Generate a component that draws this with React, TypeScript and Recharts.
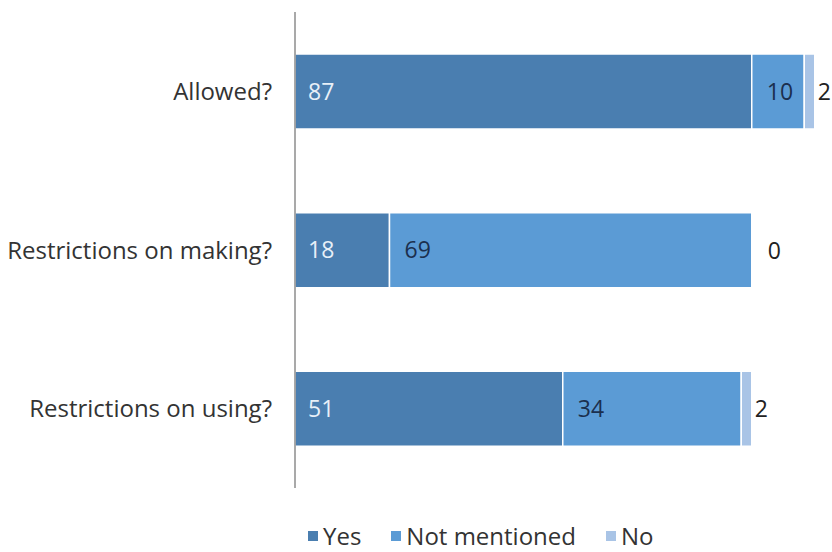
import React from 'react';
import { BarChart, Bar, XAxis, YAxis, Legend, LabelList } from 'recharts';

const categories = ['Allowed?', 'Restrictions on making?', 'Restrictions on using?'];
const yesValues = [87, 18, 51];
const notMentionedValues = [10, 69, 34];
const noValues = [2, 0, 2];

const SERIES = [
  { key: 'yes', name: 'Yes', color: '#4a7eb0' },
  { key: 'notMentioned', name: 'Not mentioned', color: '#5b9bd5' },
  { key: 'no', name: 'No', color: '#a9c4e6' },
];

const data = categories.map((name, i) => ({
  name,
  yes: yesValues[i],
  notMentioned: notMentionedValues[i],
  no: noValues[i],
}));

const FONT = '"Open Sans", sans-serif';
const FS = 23;

const renderLegend = () => (
  <div style={{ display: 'flex', alignItems: 'center', fontFamily: FONT, fontSize: 24, color: '#333', lineHeight: '32px', height: 32 }}>
    {SERIES.map((s) => (
      <div key={s.key} style={{ display: 'flex', alignItems: 'center', marginRight: 30 }}>
        <span style={{ width: 10, height: 10, background: s.color, display: 'inline-block', marginRight: 5 }} />
        <span style={{ whiteSpace: 'nowrap' }}>{s.name}</span>
      </div>
    ))}
  </div>
);

// zero-width "No" segments get their value drawn past the end of the previous segment
const renderZeroNo = (props: any) => {
  const { x, y, width, height, index } = props;
  if (noValues[index] !== 0) return null;
  return (
    <text x={x + width + 16} y={y + height / 2} fill="#222" fontSize={FS} fontFamily={FONT} dominantBaseline="central">
      {noValues[index]}
    </text>
  );
};

export default function App() {
  return (
    <div style={{ position: 'absolute', left: 0, top: 0, width: 832, height: 552, background: '#fff' }}>
      <BarChart
        width={832}
        height={552}
        data={data}
        layout="vertical"
        margin={{ top: 12, right: 12, bottom: 32, left: 0 }}
        barSize={75}
      >
        <XAxis type="number" domain={[0, 100]} hide />
        <YAxis
          type="category"
          dataKey="name"
          width={295}
          tickSize={0}
          tickMargin={23}
          axisLine={{ stroke: '#8c8c8c', strokeWidth: 1.5 }}
          tickLine={false}
          tick={{ fill: '#333', fontSize: 24, fontFamily: FONT }}
        />
        <Legend
          content={renderLegend}
          wrapperStyle={{ left: 308, top: 520, width: 460, height: 32, bottom: 'auto' }}
        />
        <Bar dataKey="yes" name="Yes" stackId="a" fill="#4a7eb0" stroke="#fff" strokeWidth={1.5} isAnimationActive={false}>
          <LabelList dataKey="yes" position="insideLeft" offset={13} fill="#e8f0f8" fontSize={FS} fontFamily={FONT} />
        </Bar>
        <Bar dataKey="notMentioned" name="Not mentioned" stackId="a" fill="#5b9bd5" stroke="#fff" strokeWidth={1.5} isAnimationActive={false}>
          <LabelList dataKey="notMentioned" position="insideLeft" offset={15} fill="#1b2f4e" fontSize={FS} fontFamily={FONT} />
          <LabelList dataKey="notMentioned" content={renderZeroNo} />
        </Bar>
        <Bar dataKey="no" name="No" stackId="a" fill="#a9c4e6" stroke="#fff" strokeWidth={1.5} isAnimationActive={false}>
          <LabelList dataKey="no" position="right" offset={3} fill="#222" fontSize={FS} fontFamily={FONT} />
        </Bar>
      </BarChart>
    </div>
  );
}
